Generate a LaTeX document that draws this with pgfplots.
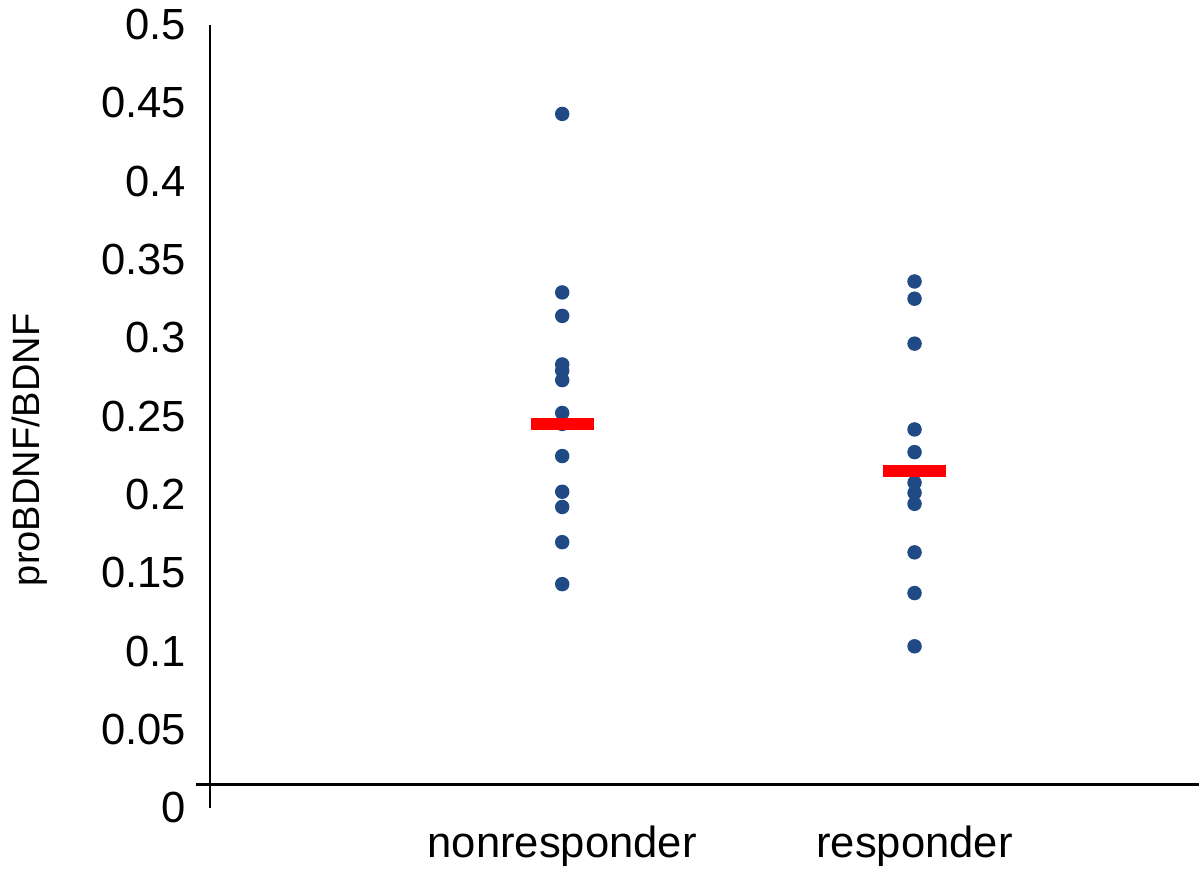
\documentclass[border=0pt]{standalone}
\usepackage{fontspec}
\setmainfont{Liberation Sans}
\usepackage{pgfplots}
\pgfplotsset{compat=1.18}
\definecolor{dotblue}{HTML}{1F4A86}
\begin{document}
\begin{tikzpicture}
\begin{axis}[
  scale only axis,
  width=349pt, height=282pt,
  xmin=0, xmax=2.75, ymin=0, ymax=0.5,
  clip=false,
  axis x line*=bottom, axis y line*=left,
  x axis line style={draw=none},
  y axis line style={line width=0.8pt, -},
  xtick={1,2}, xticklabels={nonresponder,responder},
  ytick={0,0.05,0.1,0.15,0.2,0.25,0.3,0.35,0.4,0.45,0.5},
  yticklabels={0,0.05,0.1,0.15,0.2,0.25,0.3,0.35,0.4,0.45,0.5},
  major tick length=0pt,
  tick label style={font=\fontsize{15.7}{18}\selectfont},
  yticklabel style={xshift=-5pt},
  xticklabel style={yshift=-3pt},
  ylabel={proBDNF/BDNF},
  ylabel style={font=\fontsize{13.7}{16}\selectfont, at={(axis description cs:-0.186,0.457)}, anchor=center},
]
% individual values
\addplot[only marks, mark=*, mark size=2.4pt, color=dotblue] coordinates {
  (1,0.443) (1,0.329) (1,0.314) (1,0.283) (1,0.279) (1,0.273) (1,0.252)
  (1,0.245) (1,0.2245) (1,0.2017) (1,0.192) (1,0.1695) (1,0.1427)
};
\addplot[only marks, mark=*, mark size=2.4pt, color=dotblue] coordinates {
  (2,0.336) (2,0.325) (2,0.2963) (2,0.2415) (2,0.227) (2,0.2075)
  (2,0.201) (2,0.194) (2,0.163) (2,0.137) (2,0.103)
};
% group means
\addplot[only marks, mark=-, mark size=11.3pt, color=red,
  mark options={line width=4.6pt}] coordinates {
  (1,0.245) (2,0.215)
};
\draw[line width=0.8pt] (axis cs:-0.04,0.0147) -- (axis cs:2.807,0.0147);
\path[use as bounding box] (-75.6pt,-16.2pt) rectangle (356.4pt,290.5pt);
\end{axis}
\end{tikzpicture}
\end{document}
